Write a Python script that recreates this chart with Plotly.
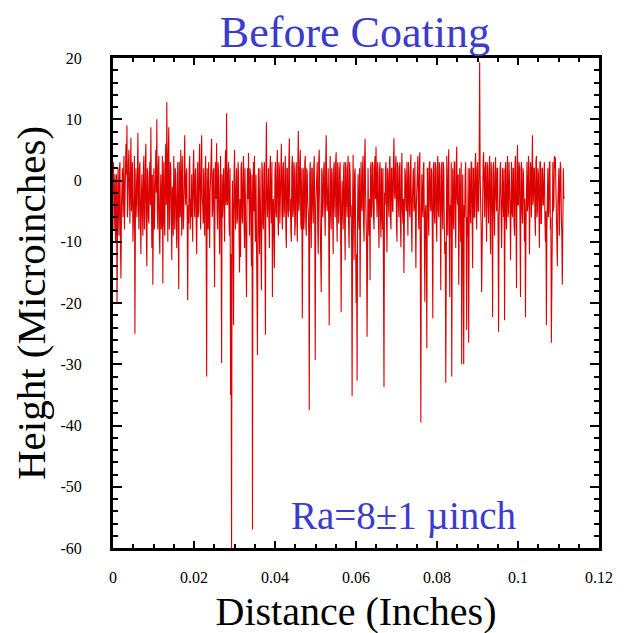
import plotly.graph_objects as go

# Sample spacing of the profilometer trace (inches); main samples
x_step = 0.000246

# Height values (microinches) at the main samples, read left to right
height = [
    -2, -8, 1, -5, -20, 2, -9, 3, -16, 0,
    -6, 4, -3, 6, 9, -4, 5, -7, 7, -2,
    -10, -3, -25, 2, -6, 7.8, -8, 3, -12, 1,
    -9, 4, -5, 6, -14, 0, -7, 3, 8.7, -11,
    -17, 2, -4, 5, 10, -8, 4, -12, 1, -6,
    -16.8, 3, -9, 6, 12.8, -10, 8.7, -5, 2, -13,
    -3, 4, -8, 1, -11, 3, -17.7, -2, 5, -9,
    0, -6, 7.4, -4, 2, -19.5, -7, 4, -3, 1,
    -10, 5, -6, 2, -12, 3, -5, 6, -8, 7.4,
    -4, 2, -9, 4, -32, -6, 3, -11, 1, 6.8,
    -5, 2, -17.4, 3, 6.1, -8, 1, -12, 4, -29.8,
    -6, 2, -10, 5, 11, -4, 3, -9, -35, -62,
    0, -23.6, 5, -8, 2, -6, 1, -15, -12.5, 3,
    -7, 4, -11, -3, -19, 2, 4.5, -9, 1, -14,
    -57, 3, 4, -10, -6, -28.5, 2, -12, -4, -17.9,
    1, -8, 3, -25.2, 9.5, -6, 2, -11, 4, -7,
    -19, -3, -14.3, 3, -6, 5, -9, 2, -4, 6,
    -8, 3, -5, 4, -11, 2, -6, 6.9, -3, -10,
    4, -5, 2, -7, 3, -10, 8.1, -4, 5, -8,
    -22.5, 2, -6, 4, -9, 1, -5, -37.5, 3, -11,
    2, -7, 4, -29.3, -2, 3, -12, 5, -6, -18.2,
    1, -4, 3, -9, 7.4, -5, 2, -23.6, 4, -8,
    1, -12, 3, -6, 4.6, -10, 2, -5, 3, -21.5,
    0, -8, 3, -13, 2, -6, 4, -11, 1, -4,
    -35.2, 4.2, -13, 2, -20, -32.7, 1, -8, -19, 3,
    -5, 4, -10, 6.8, -6, -25.5, 2, -9, -16.3, 3,
    -4, 2, -8, 4, 5.5, -6, 1, -11, 3, -9.3,
    -3, 2, -33.7, -4, 3, -11.7, 1, -6, 4, -8,
    2, -5, 6.9, -3, 4, -10, 2, -6, 3, -10.9,
    4.5, -7, -15.1, 2, -4, 3, -9, 1, -6, 4.3,
    -11.7, 2, -5, 3, -14.3, -2, 4, -8, 4.6, -39.5,
    1, -6, 3, -19.8, -4, -27.4, 2, -9, 3, -5,
    1, -22.5, 3, -7, 2, -10, 4, -6, 1, -17.9,
    3, -8, 2, -12, -33, 4, -9, 5.1, -19, -6,
    -32, 2, -8, 3, -11, 5.5, -4, -17, 2, -10,
    -30, 1, -30, -6, 3, -24.4, -9, -26.5, 2, -7,
    3, -14.3, 2, -6, 4.5, -8, 3, -5, 19.3, -3,
    -18.2, 2, 4.6, -6, 3, -10, 2, -7, 4, -12,
    1, -22.3, 3, -9, 3.8, -5, 2, -24.7, -4, 3,
    -11, 2, -6, -22.8, 3, -8, 4, -5, 1, -13,
    3, -6, 2, -9, 4, -17.6, 5.8, -4, 2, -19,
    3, -7, 1, -10, -22.3, 2, -5, 4, -12, 3,
    -6, 7.4, -3, 2, -9, 4, -5, 1, -11, 3,
    -7, 2, -4, 3, -10, -23.6, 1, -6, 3, -8,
    -26.5, 2, -5, 4, 3.8, -4, -14, 2, -9, 3,
    -6, -17, 2, -2.7,
]

# Height values (microinches) at the in-between samples (one after each main sample)
height_between = [
    3, -4, -10, 1, -6, -3, 2, -11, -4, 2,
    -1, -8, 2, 1, -6, 3, -2, 1, -5, 3,
    -7, 4, -6, -2, 3, -4, 2, -7, -3, -5,
    2, -8, 3, -9, 2, -6, 1, -4, -3, 1,
    -6, -8, 3, -2, -5, 2, -9, -3, -8, 4,
    -2, -7, 3, -4, 1, 4, -8, 3, -6, -1,
    -9, -3, 2, -7, -2, -8, 3, -6, -1, 4,
    -8, 3, -2, 1, -7, -4, 2, -8, -6, -5,
    2, -3, 1, -7, -2, -6, 3, -4, 2, -3,
    -7, -5, 1, -10, 2, -8, -3, -2, 4, -6,
    1, -9, 2, -3, -5, 3, -6, -2, -8, 1,
    -3, -7, 2, -4, -3, 1, -7, 2, -12, -5,
    -8, 1, -4, -1, -7, 3, -8, -3, 2, -6,
    1, -6, 2, -9, -4, -3, -2, 2, -8, 1,
    -4, -5, -6, 1, -12, -4, -8, 2, -10, 3,
    -7, 2, -10, 2, -3, -2, -7, 2, -5, 3,
    -4, -9, 1, -5, 2, -6, 3, -7, 2, -5,
    2, -6, 1, -8, 2, -5, 3, -5, -8, 2,
    -6, 3, -9, 1, -6, 2, -5, 3, -7, 2,
    -6, -8, 3, -7, 2, -4, -9, 1, -6, 2,
    -5, 2, -7, -4, 2, -8, 3, -2, -9, 2,
    -6, 2, -5, 3, -4, -2, -7, -3, -5, 2,
    -6, 2, -4, 3, -6, 3, -7, 2, -8, -4,
    -5, 2, -7, 3, -4, 2, -8, 3, -6, -10,
    -4, -6, 1, -8, -12, -5, -6, 2, -5, -4,
    2, -7, 3, -2, -10, 1, -6, -3, 2, -6,
    3, -6, 2, -3, -2, 3, -7, 2, -6, 2,
    -8, -15, -2, 2, -6, 2, -4, 3, -6, 2,
    -5, 3, -2, 2, -7, 3, -4, 2, -7, 1,
    -5, -3, -6, 1, -5, -2, 3, -5, 2, -6,
    -3, 2, -4, -8, -4, 2, -5, 3, -16, -6,
    -4, 2, -8, -5, -10, 2, -6, 3, -4, 2,
    -9, 2, -5, 3, -7, 2, -5, 3, -6, 2,
    -5, 3, -7, -10, 1, -3, 2, -8, -4, 3,
    -9, -5, 3, -6, 2, -3, 1, -8, -5, 3,
    -12, -8, -4, 1, -7, -6, 2, -7, -4, 3,
    -7, 2, -6, 3, -4, 2, -5, 2, 1, -8,
    -5, 3, -4, 2, -5, 3, -4, 2, -6, 3,
    -6, 2, -5, 1, -3, 2, -8, -6, 2, -4,
    -5, -3, 2, -7, -5, 2, -6, 3, -4, 2,
    -5, 2, -7, 3, -6, 1, -4, 3, -7, 2,
    -5, 2, -4, -3, -8, 3, -4, 2, -7, 2,
    3, -4, 2, -6, 3, -6, 2, -5, 3, -7,
    2, -4, 1, -6, -5, -8, 2, -5, 3, -6,
    -10, 3, -4, 2, -3, -7, -4, 2, -5, 2,
    -9, -5, -3,
]

# Merge main and in-between samples in measurement order
trace_y = []
trace_x = []
for i, h in enumerate(height):
    trace_x.append(i * x_step)
    trace_y.append(h)
    if i < len(height_between):
        trace_x.append((i + 0.5) * x_step)
        trace_y.append(height_between[i])

x_ticks = [0, 0.02, 0.04, 0.06, 0.08, 0.1, 0.12]
x_tick_labels = ["0", "0.02", "0.04", "0.06", "0.08", "0.1", "0.12"]
y_ticks = [20, 10, 0, -10, -20, -30, -40, -50, -60]
y_tick_labels = ["20", "10", "0", "-10", "-20", "-30", "-40", "-50", "-60"]

title_text = "Before Coating"
x_title = "Distance (Inches)"
y_title = "Height (Microinches)"
note_text = "Ra=8±1 µinch"

serif = "Liberation Serif, Times New Roman, serif"
blue = "#3b3bcc"

fig = go.Figure()
fig.add_trace(go.Scatter(x=trace_x, y=trace_y, mode="lines",
                         line=dict(color="#dd0000", width=1.1), showlegend=False))

axis_common = dict(
    showline=True, linecolor="black", linewidth=3, mirror="ticks",
    ticks="inside", tickcolor="black", tickwidth=2, showgrid=False,
    zeroline=False, automargin=False,
    tickfont=dict(family=serif, size=16, color="black"),
)
fig.update_xaxes(range=[0, 0.12], tickvals=x_ticks, ticktext=x_tick_labels,
                 ticklen=7, ticklabelstandoff=13,
                 minor=dict(dtick=0.005, ticks="inside", ticklen=4, tickwidth=2, tickcolor="black"),
                 title=dict(text=x_title, font=dict(family=serif, size=40, color="black"), standoff=12),
                 **axis_common)
fig.update_yaxes(range=[-60, 20], tickvals=y_ticks, ticktext=y_tick_labels,
                 ticklen=9, ticklabelstandoff=25,
                 minor=dict(dtick=2, ticks="inside", ticklen=5, tickwidth=2, tickcolor="black"),
                 title=dict(text=y_title, font=dict(family=serif, size=41, color="black"), standoff=10),
                 **axis_common)

fig.add_annotation(x=0.0718, y=-54.8, xref="x", yref="y", text=note_text, showarrow=False,
                   font=dict(family=serif, size=39, color=blue), xanchor="center", yanchor="middle")

fig.update_layout(
    width=633, height=633,
    margin=dict(l=105, r=42, t=50, b=93),
    paper_bgcolor="white", plot_bgcolor="white",
    title=dict(text=title_text, x=0.548, xanchor="center", y=0.963, yanchor="middle", yref="container",
               font=dict(family=serif, size=44, color=blue)),
)

fig.write_html("out.html")
